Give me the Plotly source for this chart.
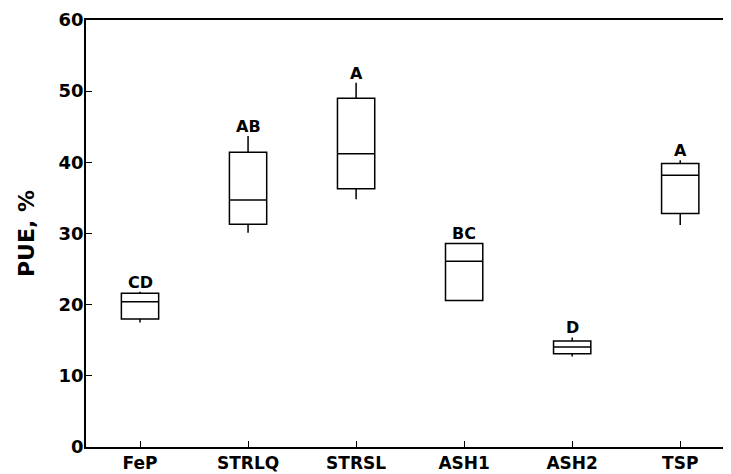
import plotly.graph_objects as go

categories = ["FeP", "STRLQ", "STRSL", "ASH1", "ASH2", "TSP"]
q1 = [18.0, 31.3, 36.3, 20.6, 13.1, 32.8]
median = [20.4, 34.7, 41.2, 26.1, 14.05, 38.2]
q3 = [21.6, 41.4, 49.0, 28.6, 14.9, 39.85]
lower = [17.5, 30.1, 34.8, 20.6, 12.7, 31.2]
upper = [21.8, 43.7, 51.2, 28.6, 15.4, 40.3]
letters = ["CD", "AB", "A", "BC", "D", "A"]

FONT = "DejaVu Sans"

fig = go.Figure()
fig.add_trace(go.Box(
    x=categories, q1=q1, median=median, q3=q3,
    lowerfence=lower, upperfence=upper,
    width=0.345, whiskerwidth=0,
    line=dict(color="black", width=1.5),
    fillcolor="rgba(255,255,255,0)",
    boxpoints=False, hoverinfo="skip", showlegend=False,
))

for c, u, t in zip(categories, upper, letters):
    fig.add_annotation(x=c, y=u, text=f"<b>{t}</b>", showarrow=False,
                       yanchor="bottom", yshift=-2,
                       font=dict(family=FONT, size=16, color="black"))

# page body has an 8px margin: figure is offset by (8, 8) in the window
fig.update_layout(
    width=723, height=466,
    margin=dict(l=78, r=0, t=12, b=27, autoexpand=False),
    plot_bgcolor="white", paper_bgcolor="white",
    font=dict(family=FONT, color="black"),
    xaxis=dict(
        type="category", range=[-0.5, 5.47],
        showline=True, linecolor="black", linewidth=1.5, mirror=True,
        ticks="inside", ticklen=6, tickcolor="black", tickwidth=1.2,
        tickfont=dict(family=FONT, size=17, color="black", weight="bold"),
        showgrid=False, zeroline=False,
    ),
    yaxis=dict(
        range=[0, 60], tickvals=[0, 10, 20, 30, 40, 50, 60],
        showline=True, linecolor="black", linewidth=1.5,
        ticks="inside", ticklen=6, tickcolor="black", tickwidth=1.2,
        ticklabelstandoff=-3,
        tickfont=dict(family=FONT, size=18, color="black", weight="bold"),
        showgrid=False, zeroline=False,
        title=dict(text="<b>PUE, %</b>", font=dict(family=FONT, size=22, color="black"), standoff=18),
    ),
)

fig.write_html("out.html")
